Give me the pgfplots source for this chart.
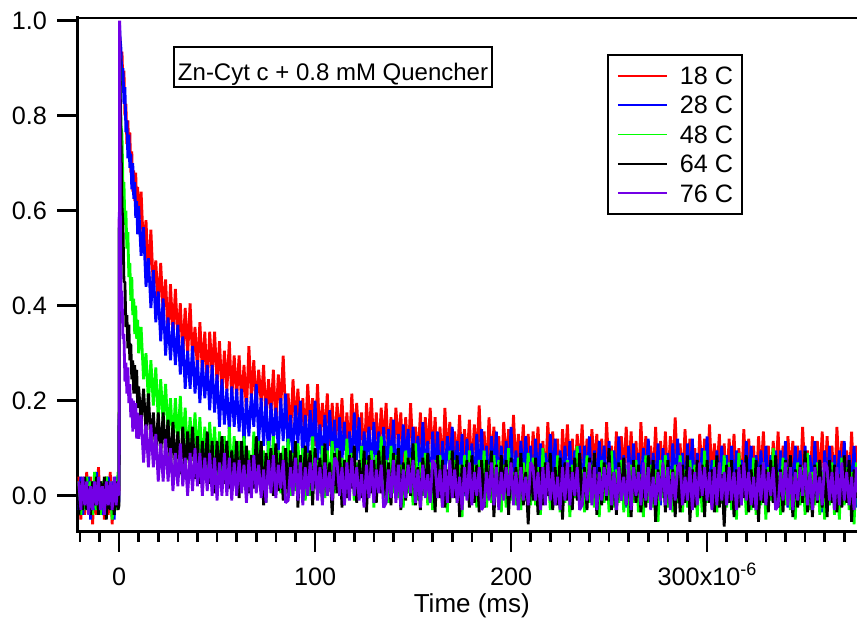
\documentclass[border=0pt]{standalone}
\usepackage{fontspec}
\setmainfont{Liberation Sans}
\usepackage{pgfplots}
\usepackage{pgfplotstable}
\pgfplotsset{compat=1.18}
\definecolor{c18}{HTML}{FF0000}
\definecolor{c28}{HTML}{0000FF}
\definecolor{c48}{HTML}{00FF00}
\definecolor{c64}{HTML}{000000}
\definecolor{c76}{HTML}{7300E6}

% t in units of 1e-6 s, normalised emission for the five temperatures
\pgfplotstableread{
t r b g k p
-20.5 .04 -.03 .03 -.04 .03
-19.5 -.05 .04 -.04 .03 -.03
-18.5 .03 -.04 .02 -.03 .04
-17.5 -.04 .03 -.03 .04 -.02
-16.5 .05 -.02 .04 -.03 .03
-15.5 -.03 .04 -.02 .02 -.04
-14.5 .04 -.05 .03 -.04 .02
-13.5 -.06 .03 -.04 .03 -.03
-12.5 .02 -.03 .05 -.02 .03
-11.5 -.04 .05 -.03 .04 -.02
-10.5 .06 -.02 .02 -.04 .04
-9.5 -.03 .03 -.04 .03 -.03
-8.5 .03 -.04 .03 -.02 .02
-7.5 -.05 .02 -.03 .04 -.04
-6.5 .04 -.03 .04 -.05 .03
-5.5 -.04 .04 -.02 .03 -.02
-4.5 .05 -.03 .03 -.03 .03
-3.5 -.06 .03 -.05 .02 -.03
-2.5 .03 -.05 .02 -.04 .04
-1.5 -.03 .04 -.03 .03 -.02
-0.5 .04 -.02 .05 -.03 .03
0 .01 -.01 .02 -.02 .00
0.3 .97 .99 .93 .96 1.00
0.6 .95 .96 .86 .85 .62
1 .90 .94 .78 .75 .43
1.5 .935 .865 .76 .61 .43
2 .86 .90 .65 .57 .33
2.5 .895 .825 .66 .45 .34
3 .80 .86 .57 .45 .24
3.5 .825 .765 .60 .355 .28
4 .74 .79 .52 .38 .215
4.5 .79 .71 .555 .31 .27
5 .72 .76 .46 .36 .195
5.5 .765 .69 .49 .285 .235
6 .68 .72 .41 .32 .165
6.5 .725 .645 .46 .245 .205
7 .64 .70 .38 .285 .135
7.5 .685 .625 .415 .215 .20
8 .62 .66 .34 .275 .14
8.5 .68 .585 .40 .215 .195
9 .61 .62 .33 .265 .12
9.5 .65 .55 .37 .185 .175
10 .57 .61 .30 .23 .12
11.25 .64 .505 .355 .155 .17
12.5 .515 .565 .245 .225 .07
13.75 .58 .44 .30 .135 .15
15 .46 .50 .195 .215 .06
16.25 .56 .395 .285 .105 .15
17.5 .435 .475 .19 .175 .06
18.75 .495 .365 .27 .085 .13
20 .395 .43 .16 .175 .03
21.25 .49 .325 .245 .085 .11
22.5 .385 .415 .155 .175 .03
23.75 .455 .295 .235 .085 .12
25 .335 .375 .13 .16 .03
26.25 .445 .285 .205 .055 .10
27.5 .335 .365 .105 .155 .01
28.75 .435 .275 .205 .055 .09
30 .33 .36 .105 .135 .02
31.25 .405 .255 .21 .045 .11
32.5 .295 .335 .105 .145 .02
33.75 .395 .225 .185 .045 .08
35 .295 .305 .075 .135 .00
36.25 .405 .225 .165 .055 .09
37.5 .285 .315 .085 .145 .01
38.75 .355 .215 .175 .035 .10
40 .265 .285 .075 .125 .02
41.25 .365 .195 .165 .025 .09
42.5 .26 .285 .055 .115 .00
43.75 .345 .205 .145 .035 .08
45 .23 .275 .055 .135 .01
46.25 .345 .18 .155 .025 .09
47.5 .255 .275 .065 .115 .00
48.75 .345 .175 .145 .005 .08
50 .235 .255 .035 .115 -.01
51.25 .325 .145 .135 .035 .07
52.5 .215 .245 .045 .125 .00
53.75 .305 .15 .125 .025 .09
55 .22 .225 .035 .115 .00
56.25 .325 .135 .145 .015 .08
57.5 .205 .23 .035 .095 -.01
58.75 .295 .145 .125 .025 .07
60 .205 .225 .035 .115 .00
61.25 .295 .135 .115 -.005 .075
62.5 .195 .225 .035 .115 .005
63.75 .275 .105 .125 .025 .065
65 .175 .205 .015 .105 -.015
66.25 .315 .125 .095 .005 .075
67.5 .205 .215 .005 .085 -.005
68.75 .285 .145 .135 .015 .085
70 .185 .235 .035 .125 .005
71.25 .265 .115 .115 .025 .065
72.5 .195 .205 .025 .115 -.005
73.75 .275 .105 .095 -.02 .055
75 .155 .205 -.015 .09 -.015
76.25 .245 .075 .115 .03 .075
77.5 .175 .195 .035 .10 .005
78.75 .265 .115 .125 .00 .085
80 .145 .185 .015 .11 -.005
81.25 .255 .095 .095 .01 .065
82.5 .185 .205 .005 .09 .015
83.75 .295 .115 .105 -.01 .075
85 .165 .215 .025 .10 -.015
86.25 .215 .09 .12 -.005 -.01
87.5 .125 .17 .00 .095 .06
88.75 .245 .08 .09 .015 .00
90 .145 .19 .01 .115 .08
91.25 .225 .11 .11 -.025 -.01
92.5 .135 .20 .03 .085 .07
93.75 .205 .07 .10 .005 -.02
95 .115 .17 -.01 .105 .06
96.25 .235 .09 .09 .025 .00
97.5 .145 .18 .00 .095 .07
98.75 .205 .09 .125 -.02 .01
100 .105 .20 .015 .10 .08
101.25 .235 .07 .075 .01 -.01
102.5 .115 .15 .005 .08 .06
103.75 .195 .06 .105 -.01 -.02
105 .125 .17 -.005 .11 .07
106.25 .215 .09 .095 .00 .00
107.5 .105 .18 .015 .07 .05
108.75 .195 .08 .115 -.04 -.01
110 .095 .16 .005 .09 .08
111.25 .195 .045 .10 .005 .07
112.5 .115 .165 .00 .095 .00
113.75 .205 .075 .08 -.025 .06
115 .095 .155 -.02 .075 -.02
116.25 .175 .055 .12 -.005 .07
117.5 .085 .135 .01 .085 -.01
118.75 .215 .065 .09 .015 .08
120 .115 .175 -.01 .105 .00
121.25 .195 .075 .07 -.015 .06
122.5 .105 .165 .00 .075 -.01
123.75 .175 .025 .105 -.005 .045
125 .065 .135 -.015 .095 -.025
126.25 .195 .075 .075 -.035 .065
127.5 .115 .145 .005 .085 -.005
128.75 .205 .045 .095 .005 .075
130 .095 .155 -.025 .075 -.015
131.25 .175 .055 .085 -.015 .055
132.5 .085 .135 .015 .095 .005
133.75 .185 .035 .125 .005 .065
135 .105 .145 -.005 .105 -.025
136.25 .195 .04 .075 -.01 -.015
137.5 .075 .14 -.015 .07 .055
138.75 .165 .06 .105 -.02 -.005
140 .085 .16 .005 .09 .075
141.25 .185 .02 .085 .01 -.015
142.5 .105 .13 -.005 .10 .065
143.75 .175 .05 .065 -.03 -.025
145 .065 .15 -.025 .07 .055
146.25 .165 .07 .095 -.01 -.005
147.5 .075 .14 .005 .08 .065
148.75 .195 .025 .08 .00 .005
150 .085 .145 -.02 .11 .075
151.25 .145 .055 .11 -.02 -.015
152.5 .075 .125 -.01 .06 .055
153.75 .175 .035 .07 -.03 -.025
155 .065 .155 .00 .08 .065
156.25 .165 .045 .09 .00 -.005
157.5 .085 .115 -.02 .09 .045
158.75 .185 .005 .07 -.01 -.015
160 .075 .135 -.03 .07 .075
161.25 .165 .045 .075 -.035 .065
162.5 .065 .135 -.005 .085 -.005
163.75 .145 .015 .085 -.005 .055
165 .045 .115 -.025 .075 -.025
166.25 .185 .035 .055 -.025 .065
167.5 .075 .125 -.035 .055 -.015
168.75 .155 .055 .095 -.015 .075
170 .055 .145 -.005 .095 -.005
171.25 .135 .025 .075 -.005 .055
172.5 .065 .115 -.015 .085 -.015
173.75 .17 .03 .065 -.045 .04
175 .05 .13 -.045 .065 -.03
176.25 .14 .00 .085 .005 .06
177.5 .07 .12 .005 .075 -.01
178.75 .16 .04 .095 -.025 .07
180 .04 .11 -.015 .085 -.02
181.25 .15 .02 .065 -.015 .05
182.5 .08 .13 -.025 .065 .00
183.75 .19 .04 .075 -.035 .06
185 .06 .14 -.005 .075 -.03
186.25 .135 .025 .095 -.025 -.02
187.5 .045 .105 -.025 .075 .05
188.75 .165 .015 .065 -.005 -.01
190 .065 .125 -.015 .095 .07
191.25 .145 .045 .085 -.045 -.02
192.5 .055 .135 .005 .065 .06
193.75 .125 .005 .075 -.015 -.03
195 .035 .105 -.035 .085 .05
196.25 .155 .025 .065 .005 -.01
197.5 .065 .115 -.025 .075 .06
198.75 .14 .035 .10 -.04 .00
200 .04 .145 -.01 .08 .07
201.25 .17 .015 .05 -.01 -.02
202.5 .05 .095 -.02 .06 .05
203.75 .13 .005 .08 -.03 -.03
205 .06 .115 -.03 .09 .06
206.25 .15 .035 .07 -.02 -.01
207.5 .04 .125 -.01 .05 .04
208.75 .13 .025 .09 -.06 -.02
210 .03 .105 -.02 .07 .07
211.25 .135 .00 .08 -.01 .06
212.5 .055 .12 -.02 .08 -.01
213.75 .145 .03 .06 -.04 .05
215 .035 .11 -.04 .06 -.03
216.25 .115 .01 .10 -.02 .06
217.5 .025 .09 -.01 .07 -.02
218.75 .155 .02 .07 .00 .07
220 .055 .13 -.03 .09 -.01
221.25 .135 .03 .05 -.03 .05
222.5 .045 .12 -.02 .06 -.02
223.75 .12 -.015 .085 -.02 .04
225 .01 .095 -.035 .08 -.03
226.25 .14 .035 .055 -.05 .06
227.5 .06 .105 -.015 .07 -.01
228.75 .15 .005 .075 -.01 .07
230 .04 .115 -.045 .06 -.02
231.25 .12 .015 .065 -.03 .05
232.5 .03 .095 -.005 .08 .00
233.75 .13 -.005 .105 -.01 .06
235 .05 .105 -.025 .09 -.03
236.25 .15 .005 .055 -.02 -.02
237.5 .03 .105 -.035 .06 .05
238.75 .12 .025 .085 -.03 -.01
240 .04 .125 -.015 .08 .07
241.25 .14 -.015 .065 .00 -.02
242.5 .06 .095 -.025 .09 .06
243.75 .13 .015 .045 -.04 -.03
245 .02 .115 -.045 .06 .05
246.25 .12 .035 .075 -.02 -.01
247.5 .03 .105 -.015 .07 .06
248.75 .155 -.005 .065 -.01 .00
250 .045 .115 -.035 .10 .07
251.25 .105 .025 .095 -.03 -.02
252.5 .035 .095 -.025 .05 .05
253.75 .135 .005 .055 -.04 -.03
255 .025 .125 -.015 .07 .06
256.25 .125 .015 .075 -.01 -.01
257.5 .045 .085 -.035 .08 .04
258.75 .145 -.025 .055 -.02 -.02
260 .035 .105 -.045 .06 .07
261.25 .135 .02 .065 -.045 -.03
262.5 .035 .11 -.015 .075 .06
263.75 .115 -.01 .075 -.015 .00
265 .015 .09 -.035 .065 .05
266.25 .155 .01 .045 -.035 -.02
267.5 .045 .10 -.045 .045 .07
268.75 .125 .03 .085 -.025 -.01
270 .025 .12 -.015 .085 .06
271.25 .105 .00 .065 -.015 -.03
272.5 .035 .09 -.025 .075 .04
273.75 .145 .01 .055 -.055 -.02
275 .025 .11 -.055 .055 .05
276.25 .115 -.02 .075 -.005 -.01
277.5 .045 .10 -.005 .065 .07
278.75 .135 .02 .085 -.035 -.02
280 .015 .09 -.025 .075 .06
281.25 .125 .00 .055 -.025 -.03
282.5 .055 .11 -.035 .055 .05
283.75 .165 .02 .065 -.045 -.01
285 .035 .12 -.015 .065 .06
286.25 .11 .01 .085 -.035 .07
287.5 .02 .09 -.035 .065 -.02
288.75 .14 .00 .055 -.015 .04
290 .04 .11 -.025 .085 -.01
291.25 .12 .03 .075 -.055 .06
292.5 .03 .12 -.005 .055 -.03
293.75 .10 -.01 .065 -.025 .05
295 .01 .09 -.045 .075 -.02
296.25 .13 .01 .055 -.005 .07
297.5 .04 .10 -.035 .065 .00
298.75 .12 .015 .095 -.045 .06
300 .02 .125 -.015 .075 -.01
301.25 .15 -.005 .045 -.015 .05
302.5 .03 .075 -.025 .055 -.03
303.75 .11 -.015 .075 -.035 .06
305 .04 .095 -.035 .085 -.02
306.25 .13 .015 .065 -.025 .07
307.5 .02 .105 -.015 .045 -.01
308.75 .11 .005 .085 -.065 .05
310 .01 .085 -.025 .065 -.02
311.25 .12 -.015 .07 -.015 .06
312.5 .04 .105 -.03 .075 -.01
313.75 .13 .015 .05 -.045 .05
315 .02 .095 -.05 .055 -.03
316.25 .10 -.005 .09 -.025 .06
317.5 .01 .075 -.02 .065 -.02
318.75 .14 .005 .06 -.005 .07
320 .04 .115 -.04 .085 -.01
321.25 .12 .015 .04 -.035 .05
322.5 .03 .105 -.03 .055 -.02
323.75 .105 -.025 .08 -.025 .04
325 -.005 .085 -.04 .075 -.03
326.25 .125 .025 .05 -.055 .06
327.5 .045 .095 -.02 .065 -.01
328.75 .135 -.005 .07 -.015 .07
330 .025 .105 -.05 .055 -.02
331.25 .105 .005 .06 -.035 .05
332.5 .015 .085 -.01 .075 .00
333.75 .115 -.015 .10 -.015 .06
335 .035 .095 -.03 .085 -.03
336.25 .135 -.005 .05 -.025 -.02
337.5 .015 .095 -.04 .055 .05
338.75 .105 .015 .08 -.035 -.01
340 .025 .115 -.02 .075 .07
341.25 .125 -.025 .06 -.005 -.02
342.5 .045 .085 -.03 .085 .06
343.75 .115 .005 .04 -.045 -.03
345 .005 .105 -.05 .055 .05
346.25 .105 .025 .07 -.025 -.01
347.5 .015 .095 -.02 .065 .06
348.75 .145 -.015 .06 -.015 .00
350 .035 .105 -.04 .095 .07
351.25 .095 .015 .09 -.035 -.02
352.5 .025 .085 -.03 .045 .05
353.75 .125 -.005 .05 -.045 -.03
355 .015 .115 -.02 .065 .06
356.25 .115 .005 .07 -.015 -.01
357.5 .035 .075 -.04 .075 .04
358.75 .135 -.035 .05 -.025 -.02
360 .025 .095 -.05 .055 .07
361.25 .125 .015 .06 -.045 .06
362.5 .025 .105 -.02 .075 -.01
363.75 .105 -.015 .07 -.015 .05
365 .005 .085 -.04 .065 -.03
366.25 .145 .005 .04 -.035 .06
367.5 .035 .095 -.05 .045 -.02
368.75 .115 .025 .08 -.025 .07
370 .015 .115 -.02 .085 -.01
371.25 .095 -.005 .06 -.015 .05
372.5 .025 .085 -.03 .075 -.02
373.75 .135 .005 .05 -.055 .04
375 .015 .105 -.06 .055 -.03
376.25 .105 -.025 .07 -.005 .06
377.5 .035 .095 -.01 .065 -.01
}\decay

\begin{document}
\begin{tikzpicture}
\useasboundingbox (-38.65bp,-48.15bp) rectangle (389.85bp,265.85bp);
\begin{axis}[
  at={(0,0)}, anchor=south west,
  scale only axis, width=389.85bp, height=257.1bp,
  xmin=-21.3, xmax=376.5, ymin=-0.0758, ymax=1.0067,
  axis x line*=bottom, axis y line*=left,
  axis line style={-, line width=1.5bp, line cap=rect},
  tick align=outside,
  major tick length=10bp, minor tick length=5bp,
  every tick/.style={black, line width=1.3bp},
  xtick={0,100,200,300},
  xticklabels={0,100,200,{300x10\raisebox{0.42em}{\fontsize{9bp}{9bp}\selectfont -6}}},
  minor xtick={-20,-10,...,370},
  ytick={0,0.2,0.4,0.6,0.8,1.0},
  yticklabels={0.0,0.2,0.4,0.6,0.8,1.0},
  ticklabel style={font=\fontsize{12.6bp}{14bp}\selectfont},
  xticklabel style={inner sep=0pt, text height=8.8bp, yshift=-8bp},
  yticklabel style={inner sep=0pt, xshift=-5bp},
  xlabel={Time (ms)},
  xlabel style={at={(axis description cs:0.506,-0.158)}, anchor=base, inner sep=0pt,
    font=\fontsize{13bp}{15bp}\selectfont},
  legend cell align=left,
  legend image code/.code={\draw[#1, line width=0.9bp] (0bp,0bp) -- (24.5bp,0bp);},
  legend style={at={(0.6794,0.929)}, anchor=north west, draw=black, line width=1bp,
    inner xsep=4.5bp, inner ysep=6bp, row sep=5.9bp, column sep=6bp,
    font=\fontsize{12.6bp}{14bp}\selectfont,
    nodes={inner sep=0pt, text depth=0pt}},
  every axis plot/.append style={line width=1.4bp, line join=bevel, no markers},
]
\addplot[c18] table[x=t, y=r]{\decay};
\addplot[c28] table[x=t, y=b]{\decay};
\addplot[c48] table[x=t, y=g]{\decay};
\addplot[c64] table[x=t, y=k]{\decay};
\addplot[c76] table[x=t, y=p]{\decay};
\legend{18 C, 28 C, 48 C, 64 C, 76 C}
\draw[line width=1.5bp, line cap=rect] (rel axis cs:0,1) -- (rel axis cs:1,1);
\node[draw, line width=1bp, inner xsep=2bp, inner ysep=3.5bp, text height=13bp, text depth=0pt,
  font=\fontsize{12bp}{14bp}\selectfont] at (rel axis cs:0.328,0.9037) {Zn-Cyt c + 0.8 mM Quencher};
\end{axis}
\end{tikzpicture}
\end{document}
